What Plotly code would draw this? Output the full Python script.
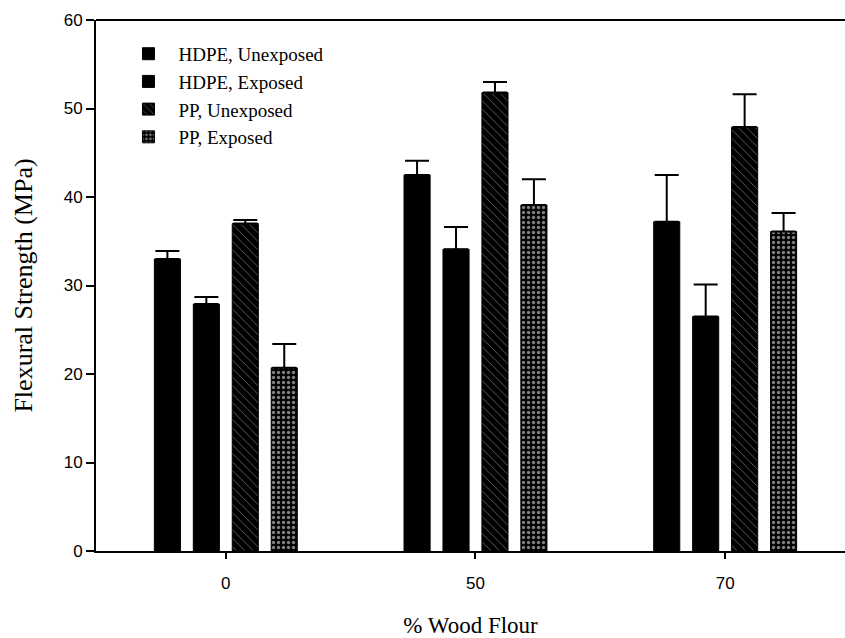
import plotly.graph_objects as go

categories = ["0", "50", "70"]
series_names = ["HDPE, Unexposed", "HDPE, Exposed", "PP, Unexposed", "PP, Exposed"]
hdpe_unexposed = [33.0, 42.5, 37.2]
hdpe_unexposed_err = [0.9, 1.6, 5.3]
hdpe_exposed = [27.9, 34.1, 26.5]
hdpe_exposed_err = [0.8, 2.5, 3.6]
pp_unexposed = [37.0, 51.8, 47.9]
pp_unexposed_err = [0.4, 1.2, 3.7]
pp_exposed = [20.7, 39.1, 36.1]
pp_exposed_err = [2.7, 2.9, 2.1]

values = [hdpe_unexposed, hdpe_exposed, pp_unexposed, pp_exposed]
errors = [hdpe_unexposed_err, hdpe_exposed_err, pp_unexposed_err, pp_exposed_err]
patterns = [
    dict(shape=""),
    dict(shape=""),
    dict(shape="\\", fgcolor="white", bgcolor="black", size=6, solidity=0.12, fillmode="overlay"),
    dict(shape=".", fgcolor="white", bgcolor="black", size=5, solidity=0.35, fillmode="overlay"),
]

fig = go.Figure()
for i, (name, vals, errs, pat) in enumerate(zip(series_names, values, errors, patterns)):
    fig.add_trace(go.Bar(
        x=categories, y=vals, name=name, legendgroup=f"g{i}",
        marker=dict(color="black", line=dict(color="black", width=1), pattern=pat),
        error_y=dict(type="data", array=errs, arrayminus=[0] * len(errs), symmetric=False,
                     color="black", thickness=2, width=12),
    ))

fig.update_layout(
    width=845, height=638,
    margin=dict(l=96, r=0, t=20, b=87),
    plot_bgcolor="white", paper_bgcolor="white",
    barmode="group", bargap=0.376, bargroupgap=0.33,
    showlegend=True,
    legend=dict(x=0.03, y=0.972, xanchor="left", yanchor="top",
                font=dict(family="Liberation Serif", size=19, color="black"),
                bgcolor="rgba(0,0,0,0)", traceorder="grouped", tracegroupgap=0, itemwidth=50),
    font=dict(family="Liberation Sans", color="black"),
    shapes=[dict(type="line", xref="paper", yref="paper", x0=0, x1=1, y0=1, y1=1,
                 line=dict(color="black", width=2))],
)
fig.update_xaxes(
    type="category", range=[-0.52, 2.48],
    showline=True, linecolor="black", linewidth=2,
    ticks="outside", ticklen=6, tickwidth=1.5, tickcolor="black",
    ticklabelstandoff=10,
    tickfont=dict(family="Liberation Sans", size=17, color="black"),
    title=dict(text="% Wood Flour", font=dict(family="Liberation Serif", size=23, color="black"), standoff=26),
    showgrid=False, zeroline=False,
)
fig.update_yaxes(
    range=[0, 60], dtick=10,
    showline=True, linecolor="black", linewidth=2,
    ticks="outside", ticklen=8, tickwidth=1.5, tickcolor="black",
    tickfont=dict(family="Liberation Sans", size=17, color="black"),
    title=dict(text="Flexural Strength (MPa)", font=dict(family="Liberation Serif", size=26, color="black"), standoff=24),
    showgrid=False, zeroline=False,
)

fig.write_html("out.html")
